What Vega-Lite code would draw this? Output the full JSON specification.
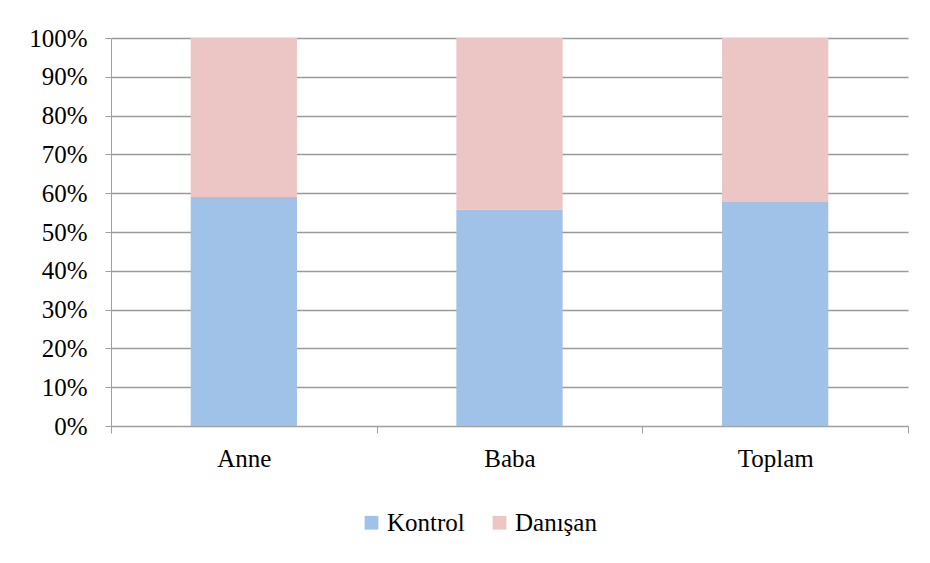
{
  "$schema": "https://vega.github.io/schema/vega-lite/v6.json",
  "autosize": "none",
  "width": 797,
  "height": 388,
  "padding": {"left": 111, "top": 38, "right": 22, "bottom": 137},
  "background": "white",
  "data": {
    "values": [
      {"grup": "Anne", "tur": "Kontrol", "oran": 0.590},
      {"grup": "Anne", "tur": "Danışan", "oran": 0.410},
      {"grup": "Baba", "tur": "Kontrol", "oran": 0.558},
      {"grup": "Baba", "tur": "Danışan", "oran": 0.442},
      {"grup": "Toplam", "tur": "Kontrol", "oran": 0.577},
      {"grup": "Toplam", "tur": "Danışan", "oran": 0.423}
    ]
  },
  "mark": {"type": "bar", "width": {"band": 0.4}},
  "encoding": {
    "x": {
      "field": "grup",
      "type": "nominal",
      "sort": ["Anne", "Baba", "Toplam"],
      "scale": {"paddingInner": 0, "paddingOuter": 0},
      "axis": {
        "title": null,
        "labelAngle": 0,
        "tickBand": "extent",
        "tickSize": 7,
        "tickColor": "#a0a0a0",
        "domainColor": "#a0a0a0",
        "labelPadding": 13,
        "grid": false
      }
    },
    "y": {
      "field": "oran",
      "type": "quantitative",
      "stack": "zero",
      "scale": {"domain": [0, 1], "nice": false},
      "axis": {
        "title": null,
        "values": [0, 0.1, 0.2, 0.3, 0.4, 0.5, 0.6, 0.7, 0.8, 0.9, 1],
        "format": ".0%",
        "tickSize": 6,
        "tickColor": "#a0a0a0",
        "domainColor": "#a0a0a0",
        "gridColor": "#9a9a9a",
        "gridWidth": 1.5,
        "labelPadding": 18
      }
    },
    "color": {
      "field": "tur",
      "type": "nominal",
      "sort": ["Kontrol", "Danışan"],
      "scale": {"domain": ["Kontrol", "Danışan"], "range": ["#a0c2e8", "#ecc6c5"]},
      "legend": {
        "title": null,
        "orient": "none",
        "direction": "horizontal",
        "legendX": 248,
        "legendY": 472,
        "symbolType": "square",
        "symbolSize": 190,
        "symbolStrokeWidth": 0,
        "labelOffset": 3,
        "columnPadding": 22,
        "padding": 0
      }
    }
  },
  "config": {
    "font": "Liberation Serif, Times New Roman, serif",
    "view": {"stroke": null},
    "axis": {
      "labelFont": "Liberation Serif, Times New Roman, serif",
      "labelFontSize": 25,
      "labelColor": "#000000"
    },
    "legend": {
      "labelFont": "Liberation Serif, Times New Roman, serif",
      "labelFontSize": 25,
      "labelColor": "#000000"
    }
  }
}
